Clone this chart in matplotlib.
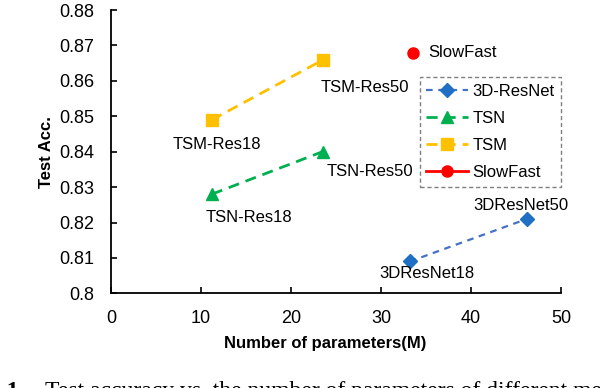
import matplotlib
matplotlib.use("Agg")
import matplotlib.pyplot as plt

plt.rcParams['font.family'] = ['Liberation Sans', 'DejaVu Sans']

# data
resnet_params = [33.2, 46.2]
resnet_acc = [0.809, 0.821]
resnet_names = ["3DResNet18", "3DResNet50"]

tsn_params = [11.2, 23.5]
tsn_acc = [0.828, 0.840]
tsn_names = ["TSN-Res18", "TSN-Res50"]

tsm_params = [11.2, 23.6]
tsm_acc = [0.849, 0.866]
tsm_names = ["TSM-Res18", "TSM-Res50"]

slowfast_params = [33.6]
slowfast_acc = [0.868]
slowfast_names = ["SlowFast"]

x_ticks = [0, 10, 20, 30, 40, 50]
y_ticks = [0.80, 0.81, 0.82, 0.83, 0.84, 0.85, 0.86, 0.87, 0.88]
y_tick_labels = ["0.8", "0.81", "0.82", "0.83", "0.84", "0.85", "0.86", "0.87", "0.88"]

fig = plt.figure(figsize=(6, 3.88), dpi=100)
ax = fig.add_axes([0.185, 0.244, 0.75, 0.730])

ax.plot(resnet_params, resnet_acc, color='#4472C4', linestyle=(0, (3, 2.5)), linewidth=1.6,
        marker='D', markersize=7, markerfacecolor='#1F6FC5', markeredgecolor='#1F6FC5',
        label='3D-ResNet')
ax.plot(tsn_params, tsn_acc, color='#00B050', linestyle=(0, (4, 2.5)), linewidth=2,
        marker='^', markersize=8, markerfacecolor='#00B050', markeredgecolor='#00B050',
        label='TSN')
ax.plot(tsm_params, tsm_acc, color='#FFC000', linestyle=(0, (4, 2.5)), linewidth=2,
        marker='s', markersize=8, markerfacecolor='#FFC000', markeredgecolor='#FFC000',
        label='TSM')
ax.plot(slowfast_params, slowfast_acc, color='#FF0000', linestyle='-', linewidth=2,
        marker='o', markersize=8, markerfacecolor='#FF0000', markeredgecolor='#FF0000',
        label='SlowFast')

# point labels: (x, y, name, offset in points, ha)
labels = [
    (slowfast_params[0], slowfast_acc[0], slowfast_names[0], (11, 0), 'left'),
    (tsm_params[1], tsm_acc[1], tsm_names[1], (30, -20), 'center'),
    (tsn_params[1], tsn_acc[1], tsn_names[1], (34, -14), 'center'),
    (tsm_params[0], tsm_acc[0], tsm_names[0], (4, -18), 'center'),
    (tsn_params[0], tsn_acc[0], tsn_names[0], (27, -17), 'center'),
    (resnet_params[0], resnet_acc[0], resnet_names[0], (12, -9), 'center'),
    (resnet_params[1], resnet_acc[1], resnet_names[1], (-4, 10), 'center'),
]
for x, y, name, off, ha in labels:
    ax.annotate(name, xy=(x, y), xytext=off, textcoords='offset points',
                ha=ha, va='center', fontsize=12)

ax.set_xlim(0, 50)
ax.set_ylim(0.80, 0.88)
ax.set_xticks(x_ticks)
ax.set_yticks(y_ticks)
ax.set_yticklabels(y_tick_labels)
ax.tick_params(direction='in', length=4, width=1.2, labelsize=13, pad=12)

for side in ['top', 'right']:
    ax.spines[side].set_visible(False)
for side in ['left', 'bottom']:
    ax.spines[side].set_linewidth(1.3)

ax.set_xlabel('Number of parameters(M)', fontsize=12, fontweight='bold', labelpad=6)
ax.xaxis.set_label_coords(0.475, -0.15)
ax.set_ylabel('Test Acc.', fontsize=12, fontweight='bold', labelpad=4)

leg = ax.legend(loc='upper right', bbox_to_anchor=(1.0, 0.763), borderaxespad=0,
                fontsize=12, fancybox=False, framealpha=1, handlelength=2.5,
                labelspacing=0.72, handletextpad=0.25, borderpad=0.4)
frame = leg.get_frame()
frame.set_edgecolor('#808080')
frame.set_linestyle((0, (3, 2)))
frame.set_linewidth(1.0)

# figure caption, clipped by the bottom edge as in the reference
fig.text(24 / 600, -0.022, 'Fig. 1.', ha='right', va='baseline', fontsize=17,
         fontweight='bold', family='Liberation Serif')
fig.text(45 / 600, -0.022, 'Test accuracy vs. the number of parameters of different methods',
         ha='left', va='baseline', fontsize=17, family='Liberation Serif')

fig.savefig('out.png', dpi=100)
